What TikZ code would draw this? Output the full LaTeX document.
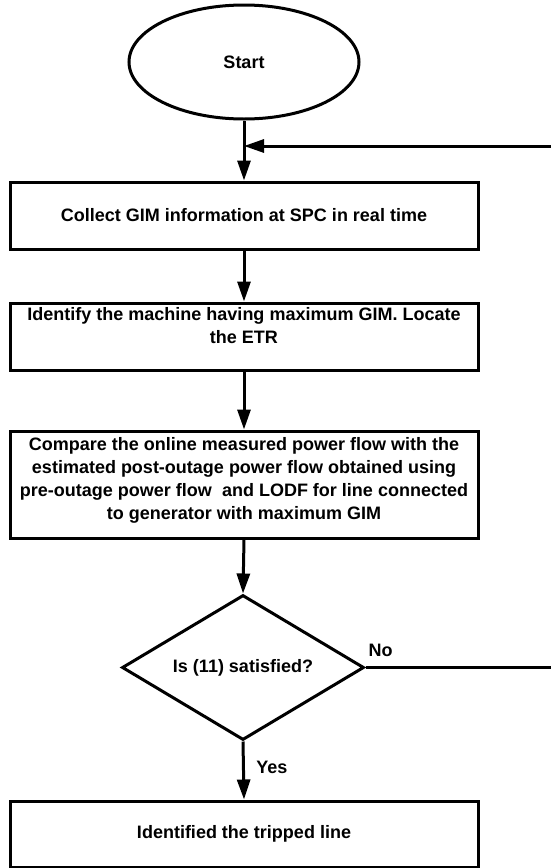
\documentclass[tikz,border=0pt]{standalone}
\usepackage{fontspec}
\setmainfont{Liberation Sans}
\usetikzlibrary{arrows.meta,shapes.geometric}

\begin{document}
\begin{tikzpicture}[x=1pt, y=-1pt,
		every node/.style={font=\fontsize{18}{23}\bfseries\selectfont},
		flowbox/.style={draw, line width=3pt, rectangle, minimum width=468pt, inner sep=0pt, align=center},
		flowline/.style={line width=3pt, -{Triangle[length=20pt,width=13pt]}}]
			%%%%% START %%%%%
			
			\useasboundingbox (0, 0) rectangle (551, 868);
			
			\node[draw, line width=3pt, ellipse, minimum width=230pt, minimum height=114pt, inner sep=0pt] (start) at (244, 62) {Start};
			
			\node[flowbox, minimum height=67pt] (collect) at (244, 215.5) {Collect GIM information at SPC in real time};
			\node[flowbox, minimum height=67pt, text depth=22pt] (identify) at (244, 336.5) {Identify the machine having maximum GIM. Locate\\the ETR};
			\node[flowbox, minimum height=107pt, text depth=12pt] (compare) at (244, 484.5) {Compare the online measured power flow with the\\estimated post-outage power flow obtained using\\pre-outage power flow~ and LODF for line connected\\to generator with maximum GIM};
			
			\node[draw, line width=3pt, diamond, aspect=1.67, minimum width=242pt, minimum height=145pt, inner sep=0pt] (check) at (243, 667.5) {Is (11) satisfied?};
			
			\node[flowbox, minimum height=66pt] (tripped) at (244, 834) {Identified the tripped line};
			
			\coordinate (join) at (244, 146);
			\coordinate (loopin) at (553, 146);
			\coordinate (loopout) at (553, 667.5);
			
			\draw[line width=3pt] (start.south) -- (join);
			\draw[flowline] (join) -- (collect.north);
			\draw[flowline] (loopin) -- (join);
			\draw[flowline] (collect.south) -- (identify.north);
			\draw[flowline] (identify.south) -- (compare.north);
			\draw[flowline] (compare.south) -- (check.north);
			\draw[flowline] (check.south) -- (tripped.north) node[pos=0.45, right=8pt] {Yes};
			\draw[line width=3pt] (check.east) -- (loopout) node[pos=0.08, above=6pt] {No};
			
			%%%%% END %%%%%
\end{tikzpicture}
\end{document}
